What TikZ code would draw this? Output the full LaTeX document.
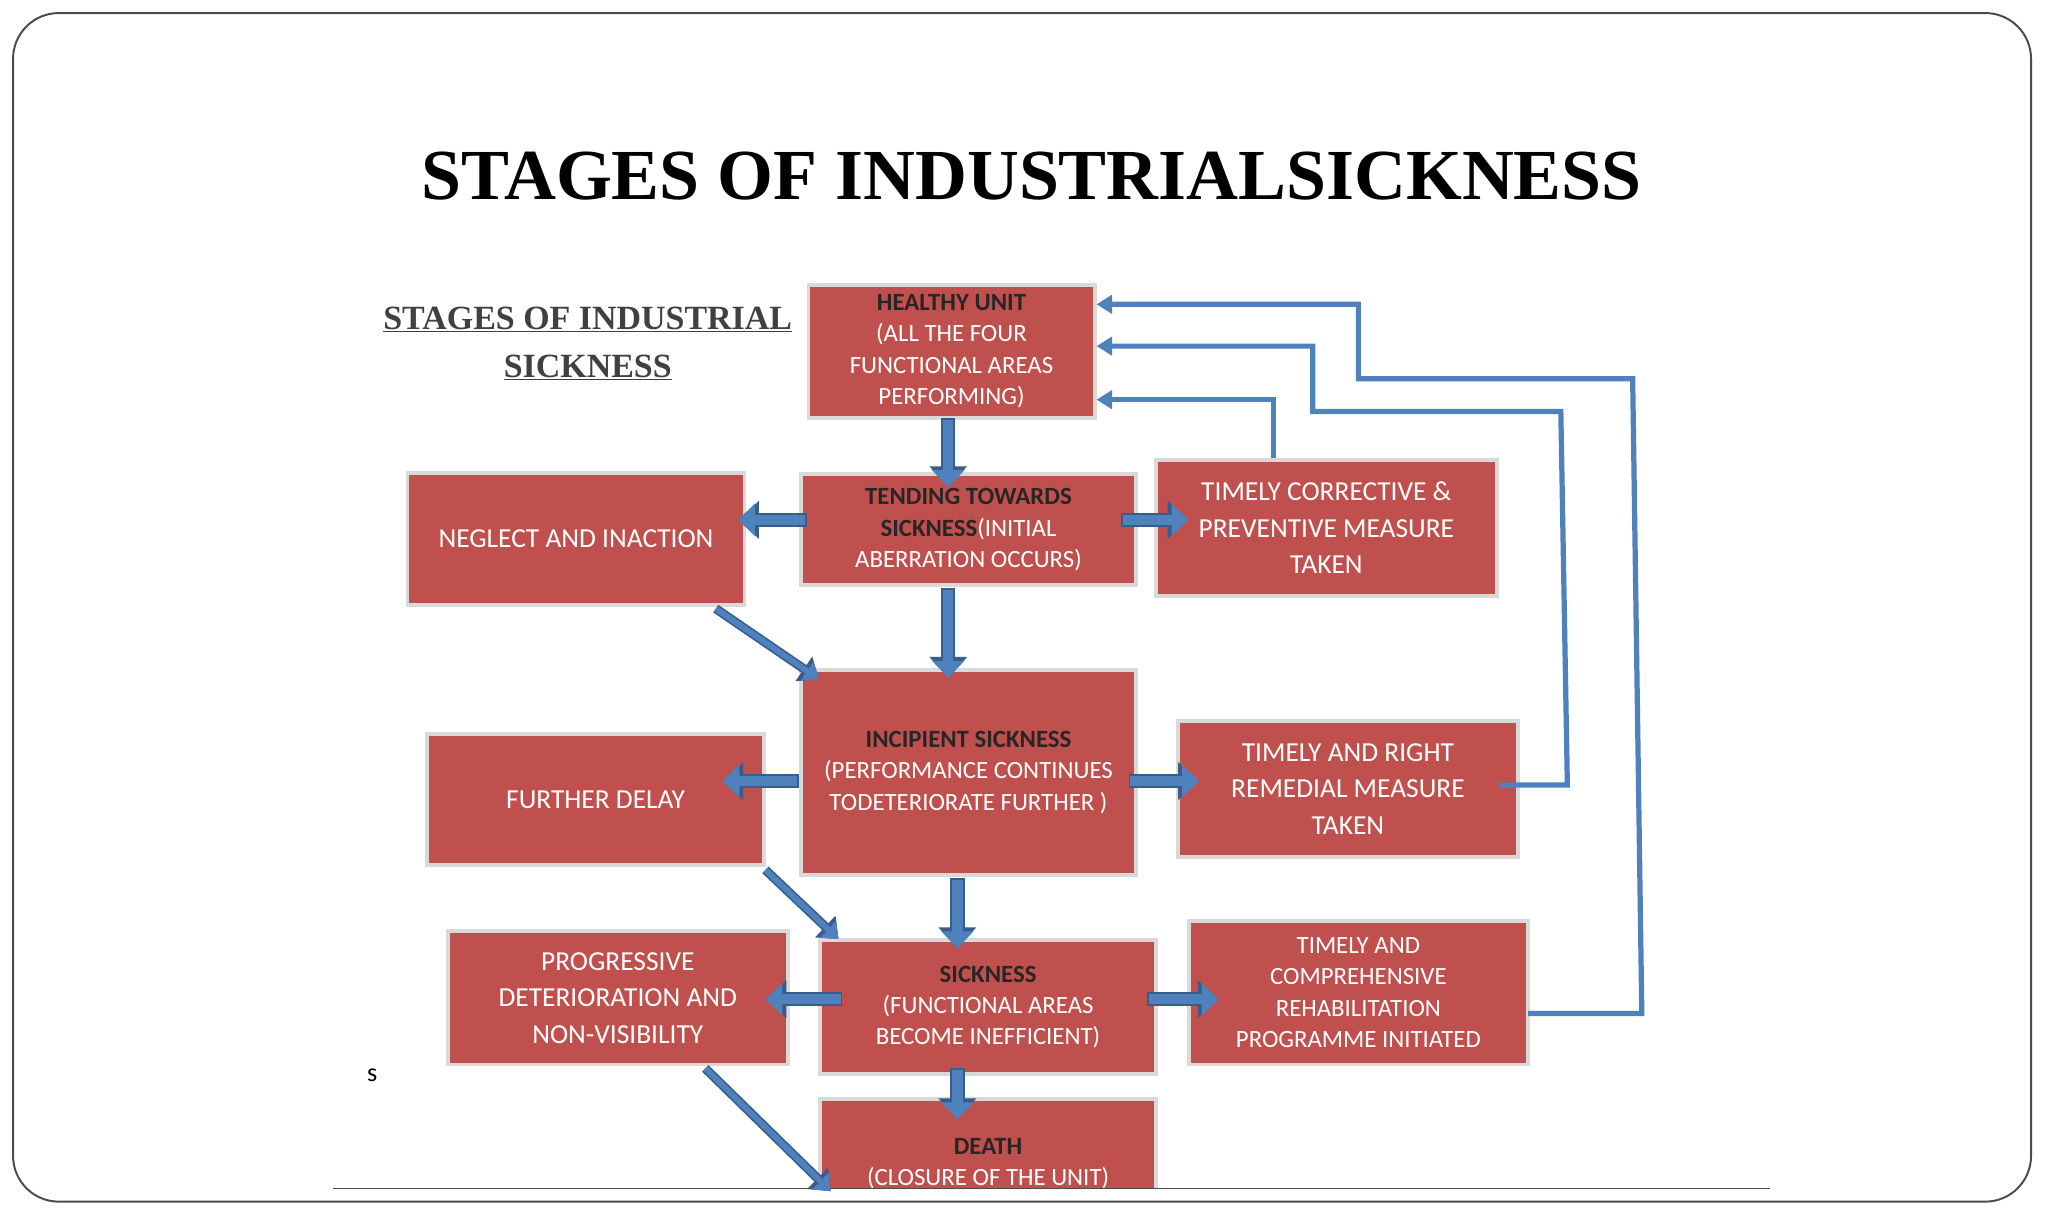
\documentclass[tikz,border=0pt]{standalone}
\usepackage{fontspec}
\setmainfont{Carlito}
\newfontfamily\ttl{Liberation Serif}
\usetikzlibrary{arrows.meta}
\definecolor{bred}{HTML}{C0504D}
\definecolor{ablue}{HTML}{4F81BD}
\definecolor{dblue}{HTML}{385D8A}
\begin{document}
\begin{tikzpicture}[x=1pt,y=-1pt,
 box/.style={fill=bred,draw=black!15,line width=3,text=white,align=center,font=\fontsize{19}{24}\selectfont,inner sep=0},
 fat/.style={draw=dblue,line width=11,-{Triangle[length=16,width=28]},shorten >=0},
 fatin/.style={draw=ablue,line width=8,-{Triangle[length=13,width=24]}},
 fb/.style={draw=ablue,line width=4,-{Triangle[length=12,width=14]}}]
\useasboundingbox (0,0) rectangle (1568,933);
\fill[white] (0,0) rectangle (1568,933);
\draw[black!70,line width=1.5,rounded corners=35] (10,10) rectangle (1555,920);
\node (title) at (790,135) {\ttl\bfseries\fontsize{55}{60}\selectfont STAGES OF INDUSTRIALSICKNESS};
\node[align=center,font=\ttl\bfseries\fontsize{26}{37}\selectfont,text=black!75] (sub) at (450,263) {\underline{STAGES OF INDUSTRIAL}\\\underline{SICKNESS}};
\node (s) at (285,823) {\fontsize{20}{20}\selectfont s};
\node[box,minimum width=219,minimum height=102] (h) at (728.5,269) {{\color{black!85}\bfseries HEALTHY UNIT}\\(ALL THE FOUR\\FUNCTIONAL AREAS\\PERFORMING)};
\node[box,minimum width=257,minimum height=85] (t) at (741.5,405.5) {{\color{black!85}\bfseries TENDING TOWARDS}\\{\color{black!85}\bfseries SICKNESS}(INITIAL\\ABERRATION OCCURS)};
\node[box,minimum width=258,minimum height=101,font=\fontsize{21}{28}\selectfont] (n) at (441,412.5) {NEGLECT AND INACTION};
\node[box,minimum width=261,minimum height=104,font=\fontsize{21}{28}\selectfont] (c) at (1015.5,404) {TIMELY CORRECTIVE \&\\PREVENTIVE MEASURE\\TAKEN};
\node[box,minimum width=257,minimum height=157] (i) at (741.5,591.5) {{\color{black!85}\bfseries INCIPIENT SICKNESS}\\(PERFORMANCE CONTINUES\\TODETERIORATE FURTHER )};
\node[box,minimum width=258,minimum height=100,font=\fontsize{21}{28}\selectfont] (f) at (456,612) {FURTHER DELAY};
\node[box,minimum width=260,minimum height=104,font=\fontsize{21}{28}\selectfont] (r) at (1032,604) {TIMELY AND RIGHT\\REMEDIAL MEASURE\\TAKEN};
\node[box,minimum width=257,minimum height=102] (k) at (756.5,771) {{\color{black!85}\bfseries SICKNESS}\\(FUNCTIONAL AREAS\\BECOME INEFFICIENT)};
\node[box,minimum width=260,minimum height=102,font=\fontsize{21}{28}\selectfont] (p) at (473,764) {PROGRESSIVE\\DETERIORATION AND\\NON-VISIBILITY};
\node[box,minimum width=260,minimum height=110] (m) at (1040,760) {TIMELY AND\\COMPREHENSIVE\\REHABILITATION\\PROGRAMME INITIATED};
\begin{scope}
\clip (0,0) rectangle (1568,910);
\node[box,minimum width=257,minimum height=100,anchor=north] (d) at (756.5,840) {};
\node[text=white,font=\fontsize{19}{24}\selectfont,align=center,anchor=north] (dt) at (756.5,868) {{\color{black!85}\bfseries DEATH}\\(CLOSURE OF THE UNIT)};
\end{scope}
\draw[black!70,line width=1.2] (255,910) -- (1355,910);
\foreach \a/\b in {{(726,320)}/{(726,373)},{(726,450)}/{(726,519)},{(733,672)}/{(733,726)},{(733,818)}/{(733,857)},
 {(618,398)}/{(565,398)},{(858,398)}/{(910,398)},{(612,598)}/{(553,598)},{(864,598)}/{(918,598)},{(645,765)}/{(586,765)},{(878,765)}/{(933,765)}}
 {\draw[fat] \a -- \b; \draw[fatin,shorten <=1.5] \a -- \b;}
\foreach \a/\b in {{(548,466)}/{(627,520)},{(586,666)}/{(642,719)},{(540,818)}/{(636,912)}}
 {\draw[draw=dblue,line width=7,-{Triangle[length=14,width=22]}] \a -- \b; \draw[draw=ablue,line width=4.5,-{Triangle[length=11,width=17]}] \a -- \b;}
\draw[fb] (c.north -| 975,0) -- (975,306) -- (h.east |- 0,306);
\draw[fb] (1148,601) -- (1200,601) -- (1195,315) -- (1005,315) -- (1005,265) -- (h.east |- 0,265);
\draw[fb] (1170,776) -- (1257,776) -- (1250,290) -- (1040,290) -- (1040,233) -- (h.east |- 0,233);
\end{tikzpicture}
\end{document}
